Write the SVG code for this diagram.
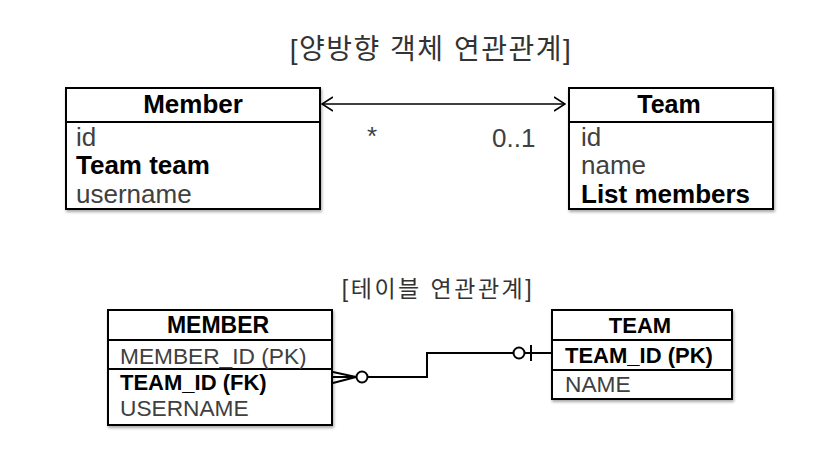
<svg xmlns="http://www.w3.org/2000/svg" width="822" height="456" viewBox="0 0 822 456">
<defs>
<filter id="sh" x="-10%" y="-10%" width="130%" height="130%">
<feGaussianBlur in="SourceAlpha" stdDeviation="1.5"/>
<feOffset dx="1" dy="2" result="b"/>
<feComponentTransfer><feFuncA type="linear" slope="0.35"/></feComponentTransfer>
<feMerge><feMergeNode/><feMergeNode in="SourceGraphic"/></feMerge>
</filter>
<marker id="open" viewBox="0 0 12 16" refX="11" refY="8" markerWidth="12" markerHeight="16" markerUnits="userSpaceOnUse" orient="auto-start-reverse">
<path d="M0,1 L11,8 L0,15" fill="none" stroke="#000" stroke-width="1.6"/>
</marker>
</defs>
<style>
.box{fill:#fff;stroke:#000;stroke-width:2}
.ln{stroke:#000;stroke-width:2;fill:none}
.t{font-family:"Liberation Sans","Noto Sans CJK KR",sans-serif;fill:#404040}
.b{font-weight:bold;fill:#000}
.title{font-family:"Liberation Sans","Noto Sans CJK KR",sans-serif;fill:#333}
</style>
<rect width="822" height="456" fill="#fff"/>
<text class="title" x="431" y="59" font-size="28" letter-spacing="1.5" text-anchor="middle">[양방향 객체 연관관계]</text>
<text class="title" x="438" y="297" font-size="23" letter-spacing="2.5" text-anchor="middle">[테이블 연관관계]</text>

<g id="Member">
<rect class="box" x="66" y="88" width="254" height="121" filter="url(#sh)"/>
<line class="ln" x1="66" y1="122" x2="320" y2="122"/>
<text class="t b" x="193" y="113" font-size="26" text-anchor="middle">Member</text>
<text class="t" x="76" y="146" font-size="26">id</text>
<text class="t b" x="76" y="174" font-size="26">Team team</text>
<text class="t" x="76" y="203" font-size="26">username</text>
</g>

<g id="Team">
<rect class="box" x="569" y="88" width="204" height="121" filter="url(#sh)"/>
<line class="ln" x1="569" y1="122" x2="773" y2="122"/>
<text class="t b" x="669" y="113" font-size="25" text-anchor="middle">Team</text>
<text class="t" x="581" y="146" font-size="26">id</text>
<text class="t" x="581" y="174" font-size="26">name</text>
<text class="t b" x="581" y="203" font-size="26">List members</text>
</g>

<g id="MEMBER">
<rect class="box" x="108" y="310" width="224" height="115" filter="url(#sh)"/>
<line class="ln" x1="108" y1="340" x2="332" y2="340"/>
<line class="ln" x1="108" y1="369" x2="332" y2="369"/>
<text class="t b" x="218" y="333" font-size="23" text-anchor="middle">MEMBER</text>
<text class="t" x="120" y="364" font-size="22.7">MEMBER_ID (PK)</text>
<text class="t b" x="120" y="390" font-size="22">TEAM_ID (FK)</text>
<text class="t" x="120" y="416" font-size="22.7">USERNAME</text>
</g>

<g id="TEAM">
<rect class="box" x="552" y="310" width="180" height="89" filter="url(#sh)"/>
<line class="ln" x1="552" y1="340" x2="732" y2="340"/>
<line class="ln" x1="552" y1="370" x2="732" y2="370"/>
<text class="t b" x="640" y="333" font-size="22" text-anchor="middle">TEAM</text>
<text class="t b" x="565" y="363" font-size="22">TEAM_ID (PK)</text>
<text class="t" x="565" y="392" font-size="22.7">NAME</text>
</g>

<g id="connectors">
<line x1="322" y1="104" x2="565" y2="104" stroke="#000" stroke-width="1.6" marker-start="url(#open)" marker-end="url(#open)"/>
<text class="t" x="372" y="145" font-size="26" text-anchor="middle">*</text>
<text class="t" x="492" y="147" font-size="26">0..1</text>

<path class="ln" d="M333,372 L356,377 M333,383 L356,377 M333,377 L356,377"/>
<circle cx="362" cy="377" r="5.5" fill="#fff" stroke="#000" stroke-width="2"/>
<path class="ln" d="M367.5,377 L427,377 L427,353 L513,353"/>
<circle cx="519" cy="353" r="5.5" fill="#fff" stroke="#000" stroke-width="2"/>
<line class="ln" x1="524.5" y1="353" x2="552" y2="353"/>
<line class="ln" x1="531" y1="345" x2="531" y2="361"/>
</g>
</svg>
